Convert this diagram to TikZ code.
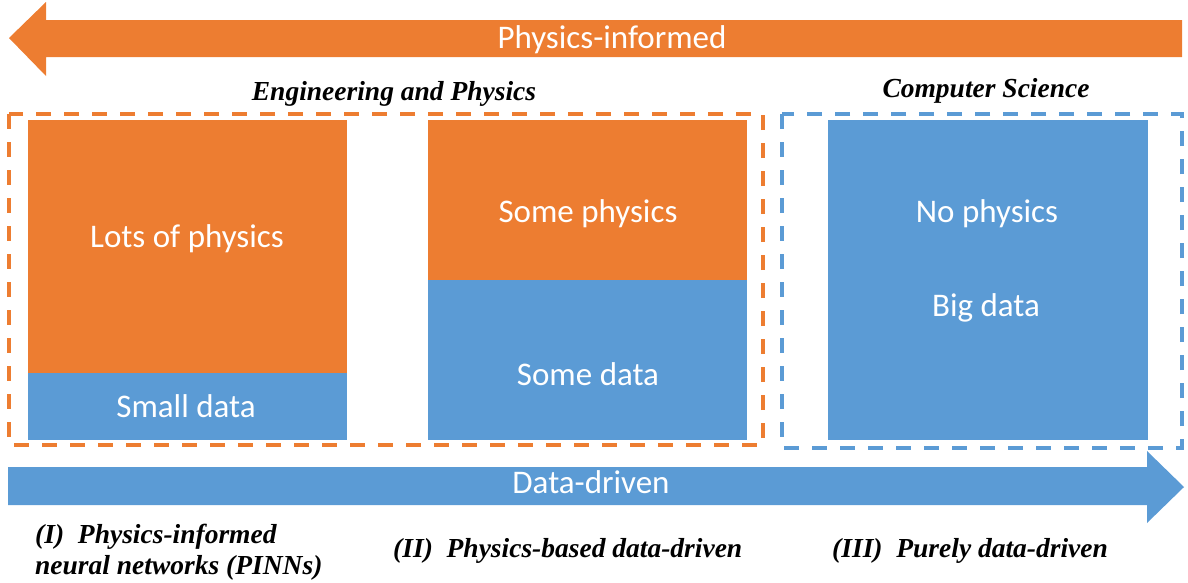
\documentclass[tikz,border=0pt]{standalone}
\usepackage{fontspec}
\setmainfont{Liberation Serif}
\newfontfamily\calibri{Carlito}
\usetikzlibrary{positioning}
\tikzset{
  frame/.style = {line width=3.5pt, dash pattern=on 15pt off 13pt},
  header/.style = {font=\bfseries\itshape\fontsize{27.5}{31}\selectfont, text=black, inner sep=0pt}
}

\begin{document}
\begin{tikzpicture}[x=1pt, y=-1pt]
  \definecolor{physOrange}{HTML}{ED7D31}
  \definecolor{dataBlue}{HTML}{5B9BD5}
  \tikzset{
    inText/.style={font=\calibri\fontsize{33}{38}\selectfont, text=white, inner sep=0pt, anchor=base},
    method/.style={header, anchor=base west, align=left}
  }

  \useasboundingbox (0,0) rectangle (1188,582);

  % arrows
  \fill[physOrange] (9,38) -- (46,2) -- (46,20) -- (1182,20) -- (1182,57)
    -- (46,57) -- (46,76) -- cycle;
  \fill[dataBlue] (8,467) -- (1147,467) -- (1147,451) -- (1184,487)
    -- (1147,523) -- (1147,505) -- (8,505) -- cycle;
  \node[inText] (physInformed) at (612,48) {Physics-informed};
  \node[inText] (dataDriven)   at (591,493) {Data-driven};

  % field frames
  \draw[frame, draw=physOrange] (9,114) rectangle (763,445);
  \draw[frame, draw=dataBlue]   (782,114) rectangle (1182,448);
  \node[header, anchor=base] (engPhys) at (394,100) {Engineering and Physics};
  \node[header, anchor=base] (compSci) at (986,97)  {Computer Science};

  % blocks
  \fill[physOrange] (28,120)  rectangle (347,373);
  \fill[dataBlue]   (28,373)  rectangle (347,440);
  \fill[physOrange] (428,120) rectangle (747,280);
  \fill[dataBlue]   (428,280) rectangle (747,440);
  \fill[dataBlue]   (828,120) rectangle (1148,440);

  \node[inText] (lotsPhys)  at (187,247) {Lots of physics};
  \node[inText] (smallData) at (186,417) {Small data};
  \node[inText] (somePhys)  at (588,222) {Some physics};
  \node[inText] (someData)  at (588,385) {Some data};
  \node[inText] (noPhys)    at (987,222) {No physics};
  \node[inText] (bigData)   at (986,316) {Big data};

  % methods
  \node[method] (pinn)  at (35,574)  {(I)\ \ Physics-informed\\neural networks (PINNs)};
  \node[method] (pbdd)  at (393,557) {(II)\ \ Physics-based data-driven};
  \node[method] (pdd)   at (832,557) {(III)\ \ Purely data-driven};
\end{tikzpicture}
\end{document}
